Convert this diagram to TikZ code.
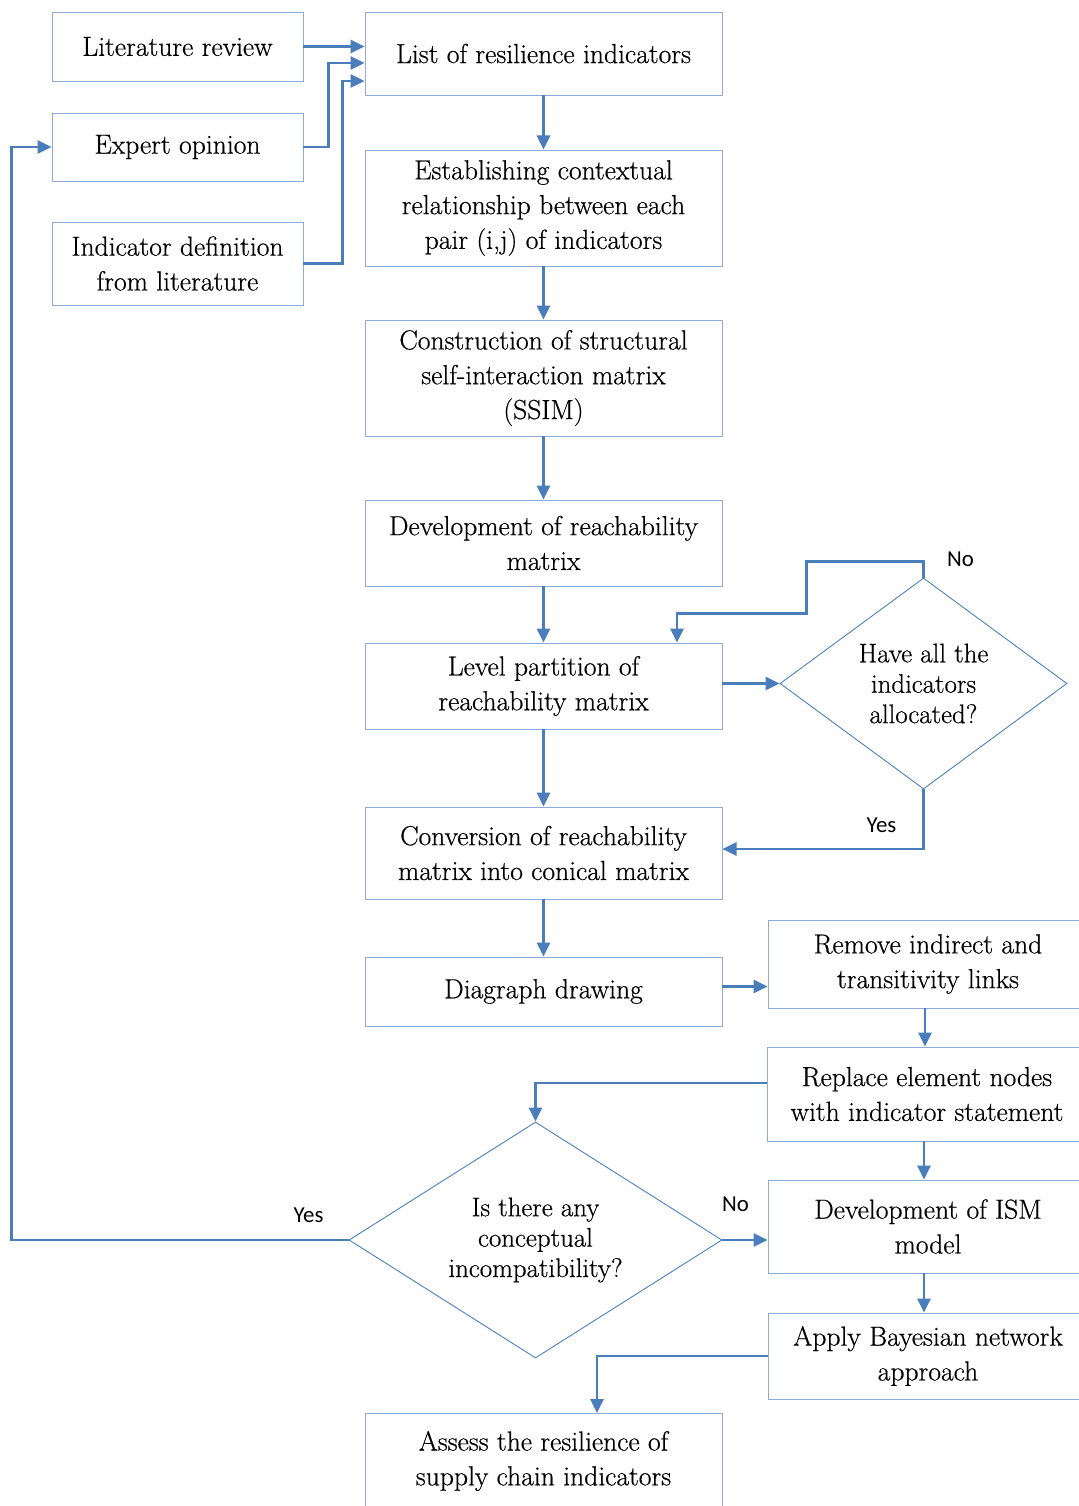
\documentclass[tikz,border=0pt]{standalone}
\usepackage{fontspec}
\newfontfamily\labelfont{Carlito}
\newfontfamily\boxfont{Latin Modern Roman}[FakeBold=0.5]
\usetikzlibrary{shapes.geometric,arrows.meta,calc}
\definecolor{boxline}{HTML}{8EAADB}
\definecolor{flowline}{HTML}{4A7EBB}

\begin{document}
\begin{tikzpicture}[x=0.2mm,y=-0.2mm]
        \tikzset{box/.style={draw=boxline,line width=0.5pt,rectangle,align=center,inner sep=2pt,
                font=\boxfont\fontsize{15.7}{19.8}\selectfont},
            wide/.style={box,minimum width=7.14cm},
            side/.style={box,minimum width=5.02cm},
            outer/.style={box,minimum width=6.4cm},
            ask/.style={diamond,draw=flowline,line width=0.5pt,inner sep=0pt,align=center,
                font=\boxfont\fontsize{15.3}{17.3}\selectfont},
            flow/.style={draw=flowline,line width=1.3pt,-{Triangle[length=8pt,width=7.5pt]}},
            tag/.style={font=\labelfont\fontsize{13}{15}\selectfont}}
        \useasboundingbox (0,0) rectangle (1078,1506);
        % input boxes
        \node[side,minimum height=1.38cm] (lit) at (177.5,46.5) {Literature review};
        \node[side,minimum height=1.36cm] (expert) at (177.5,147) {Expert opinion};
        \node[side,minimum height=1.66cm] (defn) at (177.5,263.5) {Indicator definition\\from literature};
        % main column
        \node[wide,minimum height=1.66cm] (list) at (543.5,53.5) {List of resilience indicators};
        \node[wide,minimum height=2.32cm] (estab) at (543.5,208) {Establishing contextual\\relationship between each\\pair (i,j) of indicators};
        \node[wide,minimum height=2.32cm] (ssim) at (543.5,378) {Construction of structural\\self-interaction matrix\\(SSIM)};
        \node[wide,minimum height=1.72cm] (reach) at (543.5,543) {Development of reachability\\matrix};
        \node[wide,minimum height=1.72cm] (level) at (543.5,686) {Level partition of\\reachability matrix};
        \node[wide,minimum height=1.84cm] (conv) at (543.5,853) {Conversion of reachability\\matrix into conical matrix};
        \node[wide,minimum height=1.38cm] (digraph) at (543.5,991.5) {Diagraph drawing};
        \node[wide,minimum height=1.9cm] (assess) at (543.5,1461) {Assess the resilience of\\supply chain indicators};
        % right column
        \node[outer,minimum height=1.76cm] (remove) at (928,964) {Remove indirect and\\transitivity links};
        \node[outer,minimum height=1.88cm] (replace) at (927,1094) {Replace element nodes\\with indicator statement};
        \node[outer,minimum height=1.86cm] (ism) at (928,1226.5) {Development of ISM\\model};
        \node[outer,minimum height=1.72cm] (bayes) at (928,1356) {Apply Bayesian network\\approach};
        % decisions
        \node[ask,aspect=1.36,minimum width=5.74cm,minimum height=4.22cm] (alloc) at (923.5,683.5) {Have all the\\indicators\\allocated?};
        \node[ask,aspect=1.58,minimum width=7.46cm,minimum height=4.72cm] (compat) at (535.5,1240) {Is there any\\conceptual\\incompatibility?};
        % connectors
        \draw[flow] (lit.east) -- (lit.east -| list.west);
        \draw[flow] (expert.east) -- ++(25,0) |- ([yshift=-1.9mm]list.west);
        \draw[flow] (defn.east) -- ++(39,0) |- ([yshift=-5.5mm]list.west);
        \draw[flow] (list) -- (estab);
        \draw[flow] (estab) -- (ssim);
        \draw[flow] (ssim) -- (reach);
        \draw[flow] (reach) -- (level);
        \draw[flow] (level) -- (conv);
        \draw[flow] (alloc.west -| level.east) -- (alloc.west);
        \draw[flow] (alloc.north) -- ++(0,-16) -| ++(-117,52) -| ([xshift=26.7mm]level.north);
        \draw[flow] (alloc.south) |- ([yshift=0.8mm]conv.east);
        \draw[flow] (conv) -- (digraph);
        \draw[flow] ([yshift=1mm]digraph.east) -- ([yshift=1mm]digraph.east -| remove.west);
        \draw[flow] ([xshift=-0.6mm]remove.south) -- ([xshift=-0.6mm]remove.south |- replace.north);
        \draw[flow] ([yshift=2.2mm]replace.west) -| (compat.north);
        \draw[flow] ([xshift=-0.6mm]replace.south) -- ([xshift=-0.6mm]replace.south |- ism.north);
        \draw[flow] (compat.east) -- (compat.east -| ism.west);
        \draw[flow] (compat.west) -- ++(-337,0) |- (expert.west);
        \draw[flow] ([xshift=-0.8mm]ism.south) -- ([xshift=-0.8mm]ism.south |- bayes.north);
        \draw[flow] (bayes.west) -| ([xshift=10.7mm]assess.north);
        % labels
        \node[tag] (no1) at ($(alloc.north)+(37,-18)$) {No};
        \node[tag] (yes1) at ($(alloc.south)+(-42,36)$) {Yes};
        \node[tag] (no2) at ($(compat.east)+(13,-36)$) {No};
        \node[tag] (yes2) at ($(compat.west)+(-40,-25)$) {Yes};
\end{tikzpicture}
\end{document}
